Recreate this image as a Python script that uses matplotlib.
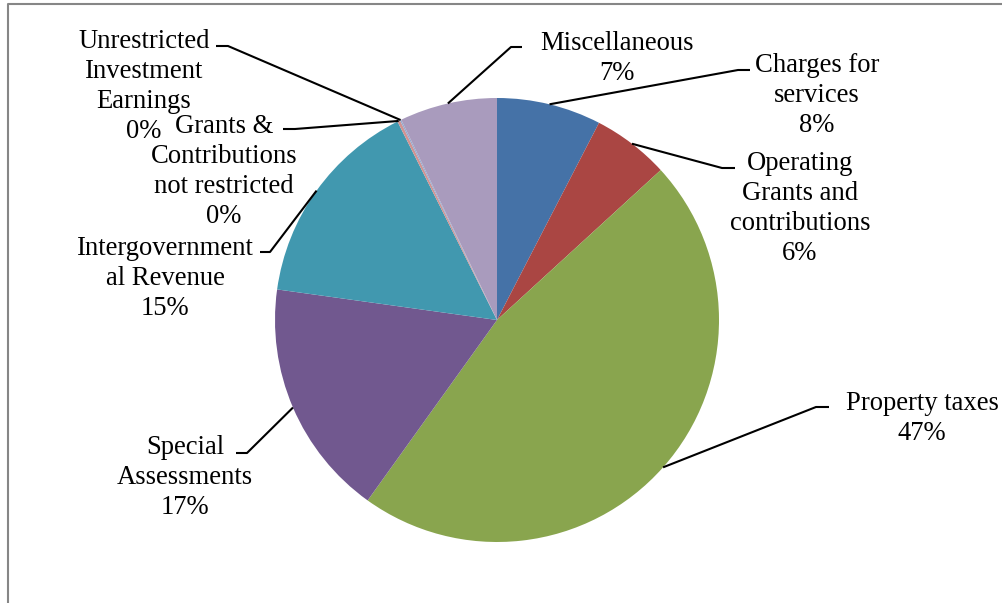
import numpy as np
import matplotlib.pyplot as plt

# revenue sources, clockwise from 12 o'clock
sources = ["Charges for\nservices", "Operating\nGrants and\ncontributions", "Property taxes",
           "Special\nAssessments", "Intergovernment\nal Revenue",
           "Grants &\nContributions\nnot restricted", "Unrestricted\nInvestment\nEarnings",
           "Miscellaneous"]
shares = [7.6, 5.6, 46.7, 17.3, 15.4, 0.2, 0.1, 7.1]
colors = ["#4572A7", "#AA4643", "#89A54E", "#71588F", "#4198AF", "#D19392", "#93A9CF", "#A99BBD"]

# label block centres and leader elbows (pixel coords, y down)
label_xy = [(817, 92), (800, 205), (922, 415), (185, 475), (165, 275), (224, 168), (144, 83), (617, 55)]
elbow_xy = [(738, 70), (722, 168), (816, 407), (247, 453), (270, 252), (295, 129), (228, 46), (511, 47)]
tail_dx = [12, 13, 13, -11, -10, -12, -12, 11]
line_step = 30

W, H = 1003, 603
cx, cy, r = 497, 320, 222

plt.rcParams['font.family'] = ['Liberation Serif', 'DejaVu Serif']

fig = plt.figure(figsize=(W / 100, H / 100), dpi=100)
ax = fig.add_axes([0, 0, 1, 1])

ax.pie(shares, colors=colors, startangle=90, counterclock=False,
       center=(cx, H - cy), radius=r, frame=True,
       wedgeprops=dict(linewidth=0))

total = sum(shares)
start = 0.0
for i, v in enumerate(shares):
    mid = (start + v / 2) / total * 2 * np.pi
    start += v
    px = cx + r * np.sin(mid)
    py = cy - r * np.cos(mid)
    ex, ey = elbow_xy[i]
    ax.plot([px, ex, ex + tail_dx[i]], [H - py, H - ey, H - ey],
            color="black", lw=1.5, solid_capstyle="butt", zorder=3)

    # one text per line so the spacing stays fixed
    lines = sources[i].split("\n") + ["%d%%" % round(v / total * 100)]
    lx, ly = label_xy[i]
    n = len(lines)
    for k, s in enumerate(lines):
        yk = ly + (k - (n - 1) / 2) * line_step
        ax.text(lx, H - yk, s, ha="center", va="center_baseline", fontsize=19.2)

ax.set_xlim(0, W)
ax.set_ylim(0, H)
ax.set_aspect("equal")
ax.axis("off")

# chart area border (top and left edges visible)
ax.plot([8, 8, W + 5], [-5, H - 4, H - 4], color="#868686", lw=1.5, clip_on=False)

fig.savefig("out.png", dpi=100)
